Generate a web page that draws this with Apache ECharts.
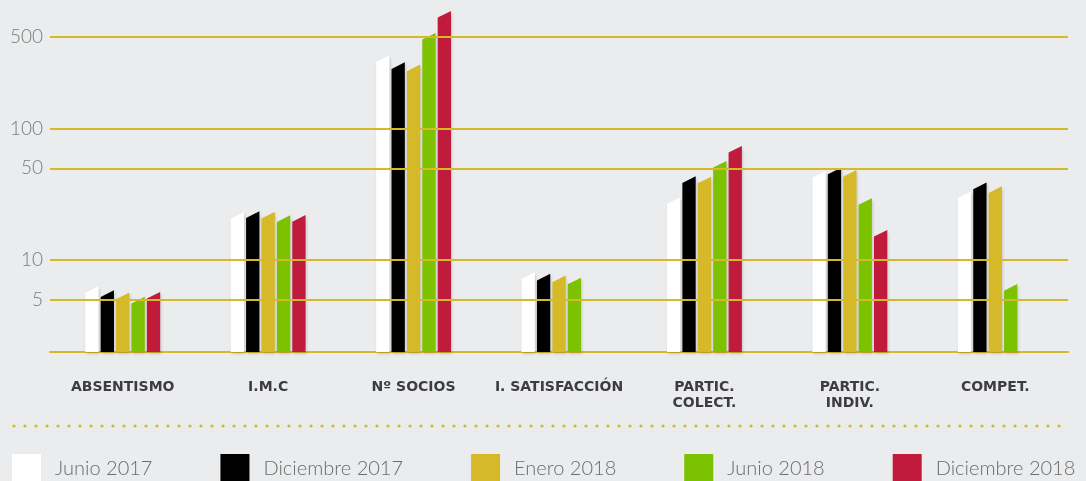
<!DOCTYPE html>
<html>
<head>
<meta charset="utf-8">
<title>Indicadores</title>
<script src="https://cdn.jsdelivr.net/npm/echarts@6/dist/echarts.min.js"></script>
<style>
  html, body { margin: 0; padding: 0; background: #ebecee; }
  #chart { width: 1086px; height: 481px; }
</style>
</head>
<body>
<div id="chart"></div>
<script>
// Categories (x axis)
var categories = ['ABSENTISMO', 'I.M.C', 'N\u00ba SOCIOS', 'I. SATISFACCI\u00d3N', 'PARTIC.\nCOLECT.', 'PARTIC.\nINDIV.', 'COMPET.'];

// Period names (legend)
var periods = ['Junio 2017', 'Diciembre 2017', 'Enero 2018', 'Junio 2018', 'Diciembre 2018'];

// Values per period, one per category (null = no data)
var junio2017     = [5.96, 21.9, 342, 7.63, 28.4, 45.0, 31.4];
var diciembre2017 = [5.56, 22.2, 302, 7.43, 41.0, 47.6, 36.7];
var enero2018     = [5.35, 22.0, 290, 7.20, 40.7, 45.7, 34.4];
var junio2018     = [4.96, 20.7, 505, 6.93, 53.7, 27.9, 6.2];
var diciembre2018 = [5.41, 20.8, 742, null, 69.8, 16.0, null];

// Reference lines on the log scale
var gridValues = [5, 10, 50, 100, 500];

var seriesValues = [junio2017, diciembre2017, enero2018, junio2018, diciembre2018];
var colors = ['#ffffff', '#000000', '#d5b928', '#7dc200', '#c01b3b'];

var Y_MIN = 2, Y_MAX = 800;
var GOLD = '#d5b928';
var BAR_SERIES_OFFSET = 1; // series[0] only holds the reference lines

function slantedBar(params, api) {
  var v = api.value(1);
  if (v == null || isNaN(v)) return;
  var idx = params.seriesIndex - BAR_SERIES_OFFSET;
  var pitch = 15.4, w = 13.3, slant = 6.6;
  var top = api.coord([api.value(0), v]);
  var base = api.coord([api.value(0), Y_MIN]);
  var x0 = top[0] + (idx - 2) * pitch - w / 2;
  var x1 = x0 + w;
  return {
    type: 'polygon',
    shape: {
      points: [[x0, base[1]], [x1, base[1]], [x1, top[1] - slant / 2], [x0, top[1] + slant / 2]]
    },
    style: {
      fill: colors[idx],
      shadowBlur: 3,
      shadowColor: 'rgba(0,0,0,0.16)',
      shadowOffsetX: 1,
      shadowOffsetY: 2
    }
  };
}

var series = [{
  // carries the horizontal reference lines
  type: 'line',
  data: [],
  z: 1,
  silent: true,
  markLine: {
    silent: true,
    symbol: 'none',
    lineStyle: { color: GOLD, width: 2, type: 'solid' },
    label: {
      position: 'start',
      distance: 7,
      formatter: function (p) { return p.value; },
      color: '#7b7b7b',
      fontFamily: 'Lato',
      fontWeight: 300,
      fontSize: 19
    },
    data: gridValues.map(function (g) { return { yAxis: g }; })
  }
}];

periods.forEach(function (name, i) {
  series.push({
    name: name,
    type: 'custom',
    z: 3,
    itemStyle: { color: colors[i] },
    encode: { x: 0, y: 1 },
    renderItem: slantedBar,
    data: seriesValues[i].map(function (v, c) { return [c, v == null ? '-' : v]; })
  });
});

var chart = echarts.init(document.getElementById('chart'));
chart.setOption({
  backgroundColor: '#ebecee',
  animation: false,
  grid: { left: 50, right: 18, top: 10, bottom: 129 },
  xAxis: {
    type: 'category',
    data: categories,
    axisLine: { show: true, lineStyle: { color: GOLD, width: 2 } },
    axisTick: { show: false },
    axisLabel: {
      margin: 27,
      interval: 0,
      color: '#3d3d3f',
      fontFamily: 'DejaVu Sans',
      fontWeight: 'bold',
      fontSize: 14,
      lineHeight: 16
    }
  },
  yAxis: {
    type: 'log',
    logBase: 10,
    min: Y_MIN,
    max: Y_MAX,
    axisLine: { show: false },
    axisTick: { show: false },
    axisLabel: { show: false },
    splitLine: { show: false }
  },
  legend: {
    data: periods,
    left: 7,
    top: 449,
    width: 1100,
    icon: 'rect',
    itemWidth: 29,
    itemHeight: 29,
    itemGap: 68,
    textStyle: {
      color: '#6b6b6b',
      fontFamily: 'Lato',
      fontWeight: 300,
      fontSize: 20,
      padding: [0, 0, 0, 9]
    }
  },
  graphic: [{
    type: 'line',
    shape: { x1: 14, y1: 426, x2: 1069, y2: 426 },
    style: { stroke: GOLD, lineWidth: 3.2, lineDash: [0, 11], lineCap: 'round' }
  }],
  series: series
});
</script>
</body>
</html>
